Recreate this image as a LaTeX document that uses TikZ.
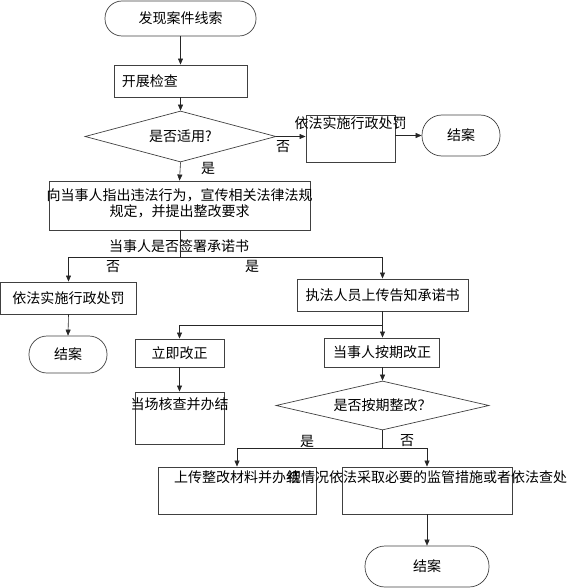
\documentclass[tikz,border=0pt]{standalone}
\usepackage{fontspec}
\newfontfamily\cjk{Noto Sans CJK SC}
\usetikzlibrary{shapes.geometric,arrows.meta,calc}
\begin{document}
\begin{tikzpicture}[x=1pt,y=1pt,
  every node/.style={font=\cjk\fontsize{14}{16}\selectfont, text=black},
  box/.style={draw=black!75, line width=0.9pt, rectangle, inner sep=0pt},
  term/.style={draw=black!75, line width=0.7pt, rectangle, inner sep=0pt},
  dia/.style={draw=black!75, line width=0.7pt, diamond, inner sep=0pt},
  arr/.style={draw=black!85, line width=0.6pt, -{Triangle[length=6pt,width=5pt]}},
  ln/.style={draw=black!85, line width=0.6pt},
  lbl/.style={inner sep=0pt}]
\useasboundingbox (0,0) rectangle (566,-588);

% top part
\node[term, minimum width=151pt, minimum height=35pt, rounded corners=17pt] (t1) at (180.5,-18.5) {发现案件线索};
\node[box, minimum width=133pt, minimum height=32pt,
  label={[anchor=west, inner sep=8pt]west:开展检查}] (b1) at (180.5,-81) {};
\node[dia, minimum width=191pt, minimum height=51pt, aspect=3.75] (d1) at (180.5,-136.5) {是否适用?};
\node[box, minimum width=89pt, minimum height=47pt,
  label={[anchor=north, inner sep=2pt]north:依法实施行政处罚}] (p1) at (350.5,-138.5) {};
\node[term, minimum width=78pt, minimum height=41pt, rounded corners=20pt] (t2) at (461,-135.5) {结案};
\node[box, minimum width=261pt, minimum height=49pt,
  label={[align=center, inner sep=0pt, yshift=2pt]center:向当事人指出违法行为，宣传相关法律法规\\规定，并提出整改要求}] (b2) at (179.5,-205.5) {};

\draw[arr] (t1.south) -- (b1.north);
\draw[arr] (b1.south) -- (d1.north);
\draw[arr] (d1.east) -- (d1.east -| p1.west);
\draw[arr] (t2.west -| p1.east) -- (t2.west);
\draw[arr] (d1.south) -- (b2.north);
\node[lbl] (no1) at (283,-147) {否};
\node[lbl] (yes1) at (208,-168) {是};

% middle part
\coordinate (j1) at (180,-257);
\node[lbl] (q1) at (179,-246) {当事人是否签署承诺书};
\node[box, minimum width=136pt, minimum height=32pt] (l1) at (68.5,-298) {依法实施行政处罚};
\node[term, minimum width=78pt, minimum height=37pt, rounded corners=18pt] (t3) at (68,-354.5) {结案};
\node[box, minimum width=171pt, minimum height=32pt] (r1) at (382.5,-295) {执法人员上传告知承诺书};
\node[box, minimum width=89pt, minimum height=28pt] (m1) at (179.5,-353) {立即改正};
\node[box, minimum width=89pt, minimum height=52pt,
  label={[anchor=north, inner sep=6pt]north:当场核查并办结}] (m2) at (179.5,-418) {};
\node[box, minimum width=115pt, minimum height=29pt] (r2) at (382,-352.5) {当事人按期改正};
\node[dia, minimum width=213pt, minimum height=49pt, aspect=4.35] (d2) at (382.5,-405.5) {是否按期整改？};

\draw[ln] (b2.south -| j1) -- (j1);
\draw[arr] (j1) -| (l1.north);
\draw[arr] (j1) -| (r1.north);
\node[lbl] (no2) at (113,-267) {否};
\node[lbl] (yes2) at (252,-266) {是};
\draw[arr] (l1.south) -- (t3.north);

\coordinate (j2) at (382.5,-325);
\draw[ln] (r1.south) -- (j2);
\draw[arr] (j2) -- (j2 |- r2.north);
\draw[arr] (j2) -| (m1.north);
\draw[arr] (m1.south) -- (m2.north);
\draw[arr] (r2.south -| d2.north) -- (d2.north);

% bottom part
\coordinate (j3) at (382.5,-448);
\node[box, minimum width=158pt, minimum height=47pt,
  label={[anchor=north, inner sep=4pt]north:上传整改材料并办结}] (bl) at (237,-490.5) {};
\node[box, minimum width=170pt, minimum height=47pt,
  label={[anchor=north, inner sep=4pt]north:视情况依法采取必要的监管措施或者依法查处}] (br) at (427,-490.5) {};
\node[term, minimum width=124pt, minimum height=41pt, rounded corners=20pt] (t4) at (427,-566.5) {结案};

\draw[ln] (d2.south) -- (j3);
\draw[arr] (j3) -| (bl.north);
\draw[arr] (j3) -| (br.north);
\node[lbl] (yes3) at (307,-441) {是};
\node[lbl] (no3) at (407,-441) {否};
\draw[arr] (br.south) -- (t4.north);
\end{tikzpicture}
\end{document}
